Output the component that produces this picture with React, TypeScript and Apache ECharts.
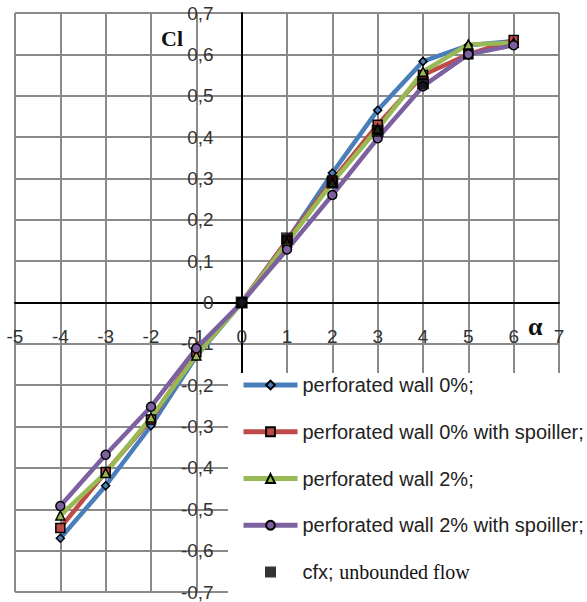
import React, { useEffect, useRef } from "react";
import * as echarts from "echarts";

const alpha = [-4, -3, -2, -1, 0, 1, 2, 3, 4, 5, 6];
const wall0 = [-0.57, -0.443, -0.298, -0.13, 0, 0.15, 0.313, 0.465, 0.583, 0.622, 0.632];
const wall0Spoiler = [-0.545, -0.41, -0.283, -0.12, 0, 0.15, 0.295, 0.43, 0.55, 0.6, 0.635];
const wall2 = [-0.515, -0.412, -0.278, -0.128, 0, 0.145, 0.29, 0.42, 0.558, 0.624, 0.628];
const wall2Spoiler = [-0.492, -0.368, -0.252, -0.111, 0, 0.128, 0.26, 0.397, 0.523, 0.6, 0.622];
const cfxAlpha = [0, 1, 2, 3, 4];
const cfxCl = [0, 0.155, 0.29, 0.415, 0.53];

const seriesNames = [
  "perforated wall 0%;",
  "perforated wall 0% with spoiller;",
  "perforated wall 2%;",
  "perforated wall 2% with spoiller;",
];
const cfxName = "cfx";

const pair = (xs: number[], ys: number[]) => xs.map((x, i) => [x, ys[i]]);

const GRID_LEFT = 15;
const GRID_TOP = 13;
const GRID_W = 544;
const GRID_H = 579;
const X_MIN = -5;
const X_MAX = 7;
const Y_MIN = -0.7;
const Y_MAX = 0.7;

export default function App() {
  const ref = useRef<HTMLDivElement>(null);
  useEffect(() => {
    if (!ref.current) return;
    const chart = echarts.init(ref.current, null, { renderer: "svg" });
    const labelFont = "Liberation Sans, Arial, sans-serif";
    const xOffset = -(GRID_H * (0 - Y_MIN)) / (Y_MAX - Y_MIN);
    const yOffset = -(GRID_W * (0 - X_MIN)) / (X_MAX - X_MIN);
    const lineSeries = (
      name: string,
      ys: number[],
      color: string,
      symbol: string,
      size: number
    ) => ({
      type: "line",
      name,
      data: pair(alpha, ys),
      symbol,
      symbolSize: size,
      lineStyle: { color, width: 4.5 },
      itemStyle: { color, borderColor: "#000", borderWidth: 1.5 },
      z: 2,
    });
    chart.setOption({
      animation: false,
      backgroundColor: "#fff",
      grid: {
        left: GRID_LEFT,
        top: GRID_TOP,
        width: GRID_W,
        height: GRID_H,
        containLabel: false,
        outerBoundsMode: "none",
      },
      xAxis: {
        type: "value",
        position: "bottom",
        offset: xOffset,
        min: X_MIN,
        max: X_MAX,
        interval: 1,
        axisLine: { onZero: false, lineStyle: { color: "#000", width: 2 } },
        axisTick: { show: false },
        splitLine: { show: true, lineStyle: { color: "#8a8a8a", width: 2 } },
        axisLabel: {
          margin: 24,
          fontSize: 19,
          fontFamily: labelFont,
          color: "#333",
          hideOverlap: false,
          showMinLabel: true,
          showMaxLabel: true,
        },
      },
      yAxis: {
        type: "value",
        position: "left",
        offset: yOffset,
        min: Y_MIN,
        max: Y_MAX,
        interval: 0.1,
        axisLine: { onZero: false, lineStyle: { color: "#000", width: 2 } },
        axisTick: { show: false },
        splitLine: { show: true, lineStyle: { color: "#8a8a8a", width: 2 } },
        axisLabel: {
          margin: 28,
          fontSize: 19,
          fontFamily: labelFont,
          color: "#333",
          hideOverlap: false,
          showMinLabel: true,
          showMaxLabel: true,
          formatter: (v: number) => {
            const r = Math.round(v * 10) / 10;
            if (r === 0) return "0";
            return r.toFixed(1).replace(".", ",");
          },
        },
      },
      legend: {
        orient: "vertical",
        left: 241,
        top: 375,
        padding: 0,
        itemWidth: 54,
        itemHeight: 11,
        itemGap: 26.75,
        symbolKeepAspect: true,
        lineStyle: { width: 5 },
        z: 6,
        textStyle: {
          fontSize: 20,
          lineHeight: 20,
          fontFamily: labelFont,
          color: "#222",
          rich: {
            a: { fontSize: 20, fontFamily: labelFont, color: "#222" },
            b: { fontSize: 20, fontFamily: "Liberation Serif, Times New Roman, serif", color: "#111" },
          },
        },
        formatter: (name: string) =>
          name === cfxName ? "{a|cfx; }{b|unbounded flow}" : name,
        data: [
          seriesNames[0],
          seriesNames[1],
          seriesNames[2],
          seriesNames[3],
          {
            name: cfxName,
            icon: "path://M0,0L10,0L10,10L0,10Z",
            itemStyle: { color: "#000" },
          },
        ],
      },
      graphic: [
        {
          type: "rect",
          z: 4,
          shape: { x: 228, y: 373, width: 359, height: 229 },
          style: { fill: "#fff" },
        },
        {
          type: "text",
          z: 5,
          x: 161,
          y: 27,
          style: {
            text: "Cl",
            font: "bold 22px 'Liberation Serif', 'Times New Roman', serif",
            fill: "#111",
          },
        },
        {
          type: "text",
          z: 5,
          x: 528,
          y: 313,
          style: {
            text: "α",
            font: "bold 26px 'Liberation Serif', 'Times New Roman', serif",
            fill: "#111",
          },
        },
      ],
      series: [
        lineSeries(seriesNames[0], wall0, "#4A7EBB", "diamond", 8),
        lineSeries(seriesNames[1], wall0Spoiler, "#BE4B48", "rect", 9),
        lineSeries(seriesNames[2], wall2, "#98B954", "triangle", 9),
        lineSeries(seriesNames[3], wall2Spoiler, "#7D60A0", "circle", 9),
        {
          type: "scatter",
          name: cfxName,
          data: pair(cfxAlpha, cfxCl),
          symbol: "rect",
          symbolSize: 12,
          itemStyle: { color: "#000" },
          z: 3,
        },
      ],
    });
    return () => chart.dispose();
  }, []);
  return <div ref={ref} style={{ width: 587, height: 602, position: "absolute", left: 0, top: 0 }} />;
}
